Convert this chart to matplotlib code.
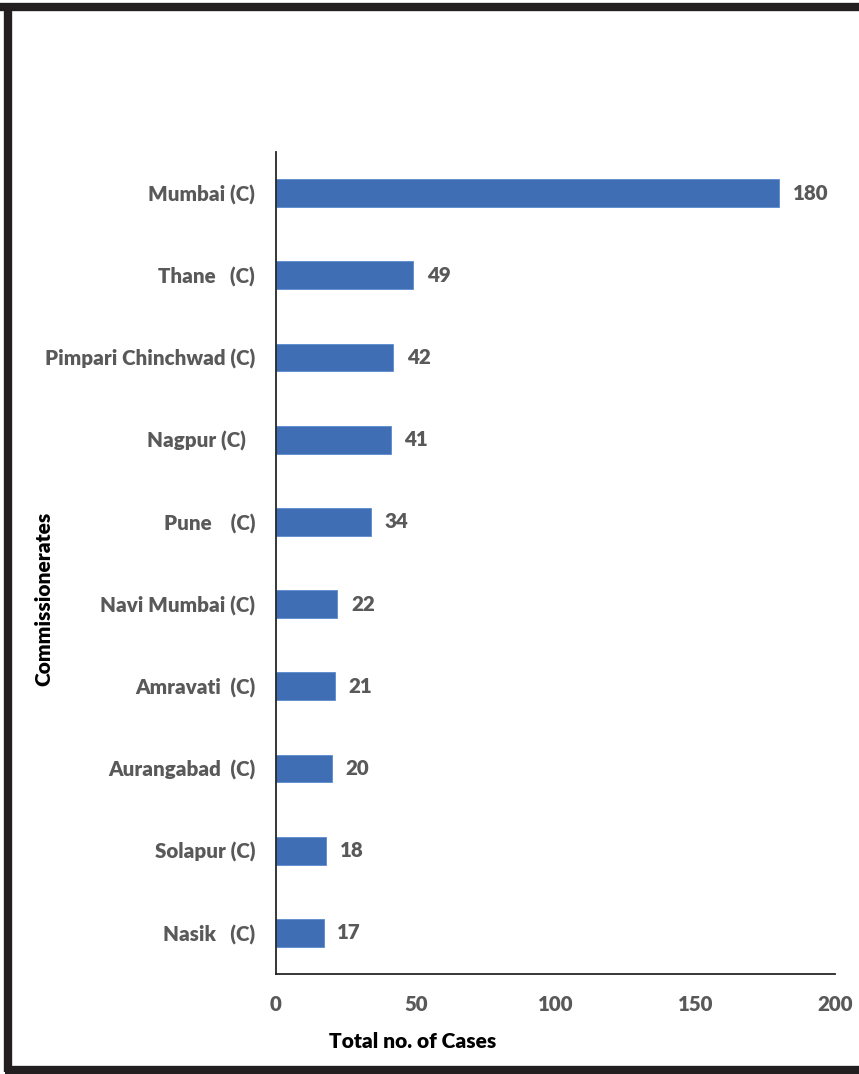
import matplotlib
matplotlib.use('Agg')
import matplotlib.pyplot as plt
from matplotlib.lines import Line2D

# Commissionerates, top to bottom
places = ['Mumbai (C)', 'Thane   (C)', 'Pimpari Chinchwad (C)', 'Nagpur (C)  ',
          'Pune    (C)', 'Navi Mumbai (C)', 'Amravati  (C)', 'Aurangabad  (C)',
          'Solapur (C)', 'Nasik   (C)']
cases = [180, 49, 42, 41, 34, 22, 21, 20, 18, 17]
xticks = [0, 50, 100, 150, 200]

plt.rcParams['font.family'] = ['Lato', 'DejaVu Sans']
grey = '#595959'
blue = '#3F6EB5'
fs = 14.8

fig = plt.figure(figsize=(8.59, 10.74), dpi=100)
ax = fig.add_axes([276/859, 1 - 974/1074, 559/859, 822/1074])

ypos = list(range(len(places)))
ax.barh(ypos, cases, height=0.34, color=blue, edgecolor='#5B8AD0', linewidth=0.6)
ax.set_ylim(len(places) - 0.5, -0.5)
ax.set_xlim(0, 200)

for y, v in zip(ypos, cases):
    ax.annotate(str(v), (v, y), xytext=(10, 0), textcoords='offset points',
                ha='left', va='center', fontsize=fs, fontweight='heavy', color=grey)

ax.set_yticks(ypos)
ax.set_yticklabels(places, fontsize=fs, fontweight='heavy', color=grey)
ax.set_xticks(xticks)
ax.set_xticklabels([str(t) for t in xticks], fontsize=fs, fontweight='heavy', color=grey)
ax.tick_params(axis='both', length=0)
ax.tick_params(axis='y', pad=15)
ax.tick_params(axis='x', pad=15)

for s in ['top', 'right']:
    ax.spines[s].set_visible(False)
for s in ['left', 'bottom']:
    ax.spines[s].set_color('#262626')
    ax.spines[s].set_linewidth(1.3)

ax.set_xlabel('Total no. of Cases', fontsize=15, fontweight='heavy', color='black')
ax.xaxis.set_label_coords((413 - 276) / 559, -0.071)
ax.set_ylabel('Commissionerates', fontsize=15, fontweight='heavy', color='black')
ax.yaxis.set_label_coords((53 - 276) / 559, 0.456)

# dark frame on top, left and bottom
frame = dict(color='#231f20', linewidth=6, solid_capstyle='butt', transform=fig.transFigure)
fig.add_artist(Line2D([0, 1], [1 - 7/1074, 1 - 7/1074], **frame))
fig.add_artist(Line2D([8/859, 8/859], [1 - 4/1074, 1 - 1072/1074], **frame))
fig.add_artist(Line2D([5/859, 1], [1 - 1070/1074, 1 - 1070/1074], **frame))

fig.savefig('out.png', dpi=100, facecolor='white')
